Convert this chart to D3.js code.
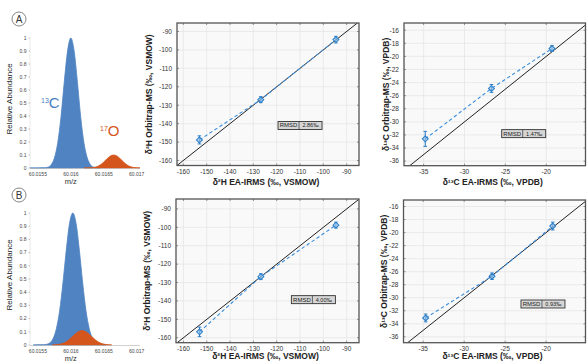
<!DOCTYPE html>
<html>
<head>
<meta charset="utf-8">
<script src="https://cdn.jsdelivr.net/npm/d3@7"></script>
<style>
  body { margin: 0; background: #fff; }
  svg { display: block; font-family: "Liberation Sans", Arial, sans-serif; }
</style>
</head>
<body>
<svg id="fig" width="587" height="362"></svg>
<script>
// ---- Mass spectra: sampled peak profiles (m/z, relative abundance) ----
const blueMzA = [60.01538, 60.0155, 60.0156, 60.01565, 60.0157, 60.01575, 60.0158, 60.01585, 60.0159, 60.01595, 60.016,
                 60.01605, 60.0161, 60.01615, 60.0162, 60.01625, 60.0163, 60.01635, 60.0164, 60.01645];
const blueAbA = [0, 0, 0.001, 0.006, 0.024, 0.076, 0.19, 0.39, 0.66, 0.90, 1.0,
                 0.90, 0.66, 0.39, 0.19, 0.076, 0.024, 0.006, 0.001, 0];
const orangeMzA = [60.0162, 60.01625, 60.0163, 60.01635, 60.0164, 60.01645, 60.0165, 60.01655, 60.0166, 60.01665,
                   60.0167, 60.01675, 60.0168, 60.01685, 60.0169, 60.01695, 60.017, 60.01705];
const orangeAbA = [0, 0.0004, 0.0014, 0.0044, 0.0114, 0.025, 0.046, 0.071, 0.092, 0.1,
                   0.092, 0.071, 0.046, 0.025, 0.0114, 0.0044, 0.0014, 0];
const blueMzB = [60.01543, 60.01558, 60.01563, 60.01568, 60.01573, 60.01578, 60.01583, 60.01588, 60.01593, 60.01598, 60.01603,
                 60.01608, 60.01613, 60.01618, 60.01623, 60.01628, 60.01633, 60.01638, 60.01643, 60.01648, 60.01653];
const blueAbB = [0, 0.001, 0.005, 0.016, 0.048, 0.123, 0.26, 0.47, 0.715, 0.92, 1.0,
                 0.92, 0.715, 0.47, 0.26, 0.123, 0.048, 0.016, 0.005, 0.001, 0];
const orangeMzB = [60.01572, 60.01577, 60.01582, 60.01587, 60.01592, 60.01597, 60.01602, 60.01607, 60.01612, 60.01617,
                   60.01622, 60.01627, 60.01632, 60.01637, 60.01642, 60.01647, 60.01652, 60.01657, 60.01662];
const orangeAbB = [0, 0.0019, 0.0048, 0.011, 0.022, 0.040, 0.062, 0.085, 0.103, 0.11,
                   0.103, 0.085, 0.062, 0.040, 0.022, 0.011, 0.0048, 0.0019, 0];
const mzTicks = [60.0155, 60.016, 60.0165, 60.017];
const mzTickLabels = ["60.0155", "60.016", "60.0165", "60.017"];
const abundTicks = [0, 0.1, 0.2, 0.3, 0.4, 0.5, 0.6, 0.7, 0.8, 0.9, 1];
const abundTickLabels = ["0", "0.1", "0.2", "0.3", "0.4", "0.5", "0.6", "0.7", "0.8", "0.9", "1"];

// ---- Orbitrap-MS vs EA-IRMS comparisons ----
const hXA = [-153.1, -126.8, -94.6];
const hYA = [-148.8, -127.0, -94.4];
const hErrA = [2.2, 1.6, 1.8];
const cXA = [-34.8, -26.7, -19.3];
const cYA = [-32.6, -24.9, -18.8];
const cErrA = [1.15, 0.6, 0.45];
const hXB = [-153.1, -126.8, -94.6];
const hYB = [-156.8, -126.8, -98.8];
const hErrB = [2.6, 1.6, 1.6];
const cXB = [-34.7, -26.6, -19.2];
const cYB = [-33.1, -26.7, -19.0];
const cErrB = [0.6, 0.5, 0.6];
const hTicks = [-160, -150, -140, -130, -120, -110, -100, -90];
const cXTicks = [-35, -30, -25, -20];
const cYTicks = [-36, -34, -32, -30, -28, -26, -24, -22, -20, -18, -16];
const rmsdLabels = ["2.86‰", "1.47‰", "4.00‰", "0.93‰"];

const BLUE_FILL = "#4f83c2";
const ORANGE = "#d4561c";
const MARK = "#2f80c8";

const svg = d3.select("#fig");

// ---------- spectrum panel ----------
function drawSpectrum(cfg) {
  const g = svg.append("g");
  const x = d3.scaleLinear().domain([60.01538, 60.01705]).range([30, 140]);
  const y = d3.scaleLinear().domain([0, 1]).range([cfg.bottom, cfg.top]);

  cfg.series.forEach(s => {
    const pts = s.mz.map((m, i) => [m, s.ab[i]]);
    const area = d3.area().x(d => x(d[0])).y0(y(0)).y1(d => y(d[1])).curve(d3.curveMonotoneX);
    g.append("path").attr("d", area(pts))
      .attr("fill", s.color).attr("stroke", s.color).attr("stroke-width", 0.8);
  });

  // axes
  g.append("line").attr("x1", 30).attr("x2", 140).attr("y1", cfg.bottom + 0.5).attr("y2", cfg.bottom + 0.5)
    .attr("stroke", "#b0b0b0").attr("stroke-width", 0.6);
  g.append("line").attr("x1", 30).attr("x2", 30).attr("y1", cfg.top).attr("y2", cfg.bottom)
    .attr("stroke", "#d0d0d0").attr("stroke-width", 0.5);
  abundTicks.forEach((t, i) => {
    g.append("line").attr("x1", 28.5).attr("x2", 30).attr("y1", y(t)).attr("y2", y(t))
      .attr("stroke", "#888").attr("stroke-width", 0.5);
    g.append("text").attr("x", 26.5).attr("y", y(t) + 1.8).attr("text-anchor", "end")
      .attr("font-size", 5).attr("fill", "#444").text(abundTickLabels[i]);
  });
  mzTicks.forEach((t, i) => {
    g.append("text").attr("x", x(t)).attr("y", cfg.bottom + 7.5).attr("text-anchor", "middle")
      .attr("font-size", 5).attr("fill", "#444").text(mzTickLabels[i]);
  });
  g.append("text").attr("x", x(60.016)).attr("y", cfg.bottom + 15.5).attr("text-anchor", "middle")
    .attr("font-size", 7.5).attr("fill", "#333").text("m/z");
  g.append("text").attr("transform", `translate(12,${(cfg.top + cfg.bottom) / 2 - 4}) rotate(-90)`)
    .attr("text-anchor", "middle").attr("font-size", 8).attr("fill", "#222").text("Relative Abundance");

  // panel letter
  g.append("circle").attr("cx", 19).attr("cy", cfg.letterY).attr("r", 7)
    .attr("fill", "#fff").attr("stroke", "#777").attr("stroke-width", 0.9);
  g.append("text").attr("x", 19).attr("y", cfg.letterY + 3.6).attr("text-anchor", "middle")
    .attr("font-size", 10).attr("fill", "#333").text(cfg.letter);

  (cfg.isoLabels || []).forEach(l => {
    const t = g.append("text").attr("x", l.x).attr("y", l.y).attr("fill", l.color);
    t.append("tspan").attr("font-size", 7).attr("dy", -5).text(l.sup);
    t.append("tspan").attr("font-size", 15).attr("dy", 5).text(l.el);
  });
}

drawSpectrum({
  top: 38, bottom: 168, letter: "A", letterY: 19,
  series: [{ mz: blueMzA, ab: blueAbA, color: BLUE_FILL }, { mz: orangeMzA, ab: orangeAbA, color: ORANGE }],
  isoLabels: [{ x: 41, y: 108, sup: "13", el: "C", color: "#4a7fc1" },
              { x: 100, y: 136, sup: "17", el: "O", color: ORANGE }]
});
drawSpectrum({
  top: 213, bottom: 345, letter: "B", letterY: 195,
  series: [{ mz: blueMzB, ab: blueAbB, color: BLUE_FILL }, { mz: orangeMzB, ab: orangeAbB, color: ORANGE }]
});

// ---------- comparison scatter panel ----------
let clipId = 0;
function drawScatter(cfg) {
  const g = svg.append("g");
  const x = d3.scaleLinear().domain(cfg.xDom).range([cfg.left, cfg.right]);
  const y = d3.scaleLinear().domain(cfg.yDom).range([cfg.bottom, cfg.top]);
  const w = cfg.right - cfg.left, h = cfg.bottom - cfg.top;
  const id = "clip" + (clipId++);
  g.append("clipPath").attr("id", id).append("rect")
    .attr("x", cfg.left).attr("y", cfg.top).attr("width", w).attr("height", h);

  g.append("rect").attr("x", cfg.left).attr("y", cfg.top).attr("width", w).attr("height", h).attr("fill", "#f9f9f9");

  // grid
  cfg.xTicks.forEach(t => g.append("line").attr("x1", x(t)).attr("x2", x(t)).attr("y1", cfg.top).attr("y2", cfg.bottom)
    .attr("stroke", "#e4e4e4").attr("stroke-width", 0.7));
  cfg.yTicks.forEach(t => g.append("line").attr("y1", y(t)).attr("y2", y(t)).attr("x1", cfg.left).attr("x2", cfg.right)
    .attr("stroke", "#e4e4e4").attr("stroke-width", 0.7));

  const plot = g.append("g").attr("clip-path", `url(#${id})`);
  // 1:1 line
  const lo = Math.min(cfg.xDom[0], cfg.yDom[0]) - 5, hi = Math.max(cfg.xDom[1], cfg.yDom[1]) + 5;
  plot.append("line").attr("x1", x(lo)).attr("y1", y(lo)).attr("x2", x(hi)).attr("y2", y(hi))
    .attr("stroke", "#222").attr("stroke-width", 1);

  const pts = cfg.xs.map((v, i) => ({ x: v, y: cfg.ys[i], e: cfg.errs[i] }));
  plot.append("path").attr("d", d3.line().x(d => x(d.x)).y(d => y(d.y))(pts))
    .attr("fill", "none").attr("stroke", "#3a8ede").attr("stroke-width", 1.1).attr("stroke-dasharray", "3.5,2.5");

  pts.forEach(p => {
    const px = x(p.x), y1 = y(p.y + p.e), y2 = y(p.y - p.e);
    plot.append("line").attr("x1", px).attr("x2", px).attr("y1", y1).attr("y2", y2)
      .attr("stroke", MARK).attr("stroke-width", 1.1);
    [y1, y2].forEach(yy => plot.append("line").attr("x1", px - 1.8).attr("x2", px + 1.8).attr("y1", yy).attr("y2", yy)
      .attr("stroke", MARK).attr("stroke-width", 1));
    plot.append("path").attr("d", d3.symbol(d3.symbolDiamond2, 22)())
      .attr("transform", `translate(${px},${y(p.y)})`)
      .attr("fill", "#9cc6ee").attr("fill-opacity", 0.6).attr("stroke", MARK).attr("stroke-width", 1.1);
  });

  // inner tick marks on all sides
  cfg.xTicks.forEach(t => {
    g.append("line").attr("x1", x(t)).attr("x2", x(t)).attr("y1", cfg.bottom).attr("y2", cfg.bottom - 2).attr("stroke", "#555").attr("stroke-width", 0.6);
    g.append("line").attr("x1", x(t)).attr("x2", x(t)).attr("y1", cfg.top).attr("y2", cfg.top + 2).attr("stroke", "#555").attr("stroke-width", 0.6);
    g.append("text").attr("x", x(t)).attr("y", cfg.bottom + 8).attr("text-anchor", "middle")
      .attr("font-size", 6.5).attr("fill", "#333").text(String(t));
  });
  cfg.yTicks.forEach(t => {
    g.append("line").attr("y1", y(t)).attr("y2", y(t)).attr("x1", cfg.left).attr("x2", cfg.left + 2).attr("stroke", "#555").attr("stroke-width", 0.6);
    g.append("line").attr("y1", y(t)).attr("y2", y(t)).attr("x1", cfg.right).attr("x2", cfg.right - 2).attr("stroke", "#555").attr("stroke-width", 0.6);
    g.append("text").attr("x", cfg.left - 5).attr("y", y(t) + 2.3).attr("text-anchor", "end")
      .attr("font-size", 6.5).attr("fill", "#333").text(String(t));
  });

  g.append("rect").attr("x", cfg.left).attr("y", cfg.top).attr("width", w).attr("height", h)
    .attr("fill", "none").attr("stroke", "#555").attr("stroke-width", 1.3);

  // titles
  g.append("text").attr("x", (cfg.left + cfg.right) / 2 - 2).attr("y", cfg.bottom + cfg.xTitleDy).attr("text-anchor", "middle")
    .attr("font-size", 8.5).attr("font-weight", "bold").attr("fill", "#222").text(cfg.xTitle);
  g.append("text").attr("transform", `translate(${cfg.left + cfg.yTitleDx},${(cfg.top + cfg.bottom) / 2}) rotate(-90)`)
    .attr("text-anchor", "middle").attr("font-size", 8.5).attr("font-weight", "bold").attr("fill", "#222").text(cfg.yTitle);

  // RMSD annotation
  const bx = x(cfg.rmsdAt[0]), by = y(cfg.rmsdAt[1]);
  const box = g.append("g").attr("transform", `translate(${bx},${by - 4})`);
  box.append("rect").attr("width", 44).attr("height", 8).attr("fill", "#d6d6d6").attr("stroke", "#333").attr("stroke-width", 0.9);
  box.append("line").attr("x1", 21).attr("x2", 21).attr("y1", 0).attr("y2", 8).attr("stroke", "#333").attr("stroke-width", 0.7);
  box.append("text").attr("x", 10.5).attr("y", 6).attr("text-anchor", "middle").attr("font-size", 6).attr("fill", "#222").text("RMSD");
  box.append("text").attr("x", 32.5).attr("y", 6).attr("text-anchor", "middle").attr("font-size", 5.5).attr("fill", "#222").text(cfg.rmsd);
}

drawScatter({
  left: 177, right: 359, top: 23, bottom: 165.5, xDom: [-162.7, -84.7], yDom: [-162.7, -85.4],
  xTicks: hTicks, yTicks: hTicks, xs: hXA, ys: hYA, errs: hErrA,
  xTitle: "δ²H EA-IRMS (‰, VSMOW)", yTitle: "δ²H Orbitrap-MS (‰, VSMOW)", yTitleDx: -25, xTitleDy: 19,
  rmsd: rmsdLabels[0], rmsdAt: [-119.4, -141.0]
});
drawScatter({
  left: 404, right: 585.5, top: 23, bottom: 165.7, xDom: [-37.4, -15.2], yDom: [-36.7, -14.9],
  xTicks: cXTicks, yTicks: cYTicks, xs: cXA, ys: cYA, errs: cErrA,
  xTitle: "δ¹³C EA-IRMS (‰, VPDB)", yTitle: "δ¹³C Orbitrap-MS (‰, VPDB)", yTitleDx: -15, xTitleDy: 19,
  rmsd: rmsdLabels[1], rmsdAt: [-25.45, -31.8]
});
drawScatter({
  left: 176, right: 359, top: 199, bottom: 342.7, xDom: [-163.2, -84.7], yDom: [-162.7, -84.6],
  xTicks: hTicks, yTicks: hTicks, xs: hXB, ys: hYB, errs: hErrB,
  xTitle: "δ²H EA-IRMS (‰, VSMOW)", yTitle: "δ²H Orbitrap-MS (‰, VSMOW)", yTitleDx: -26, xTitleDy: 16.3,
  rmsd: rmsdLabels[2], rmsdAt: [-113.7, -139.3]
});
drawScatter({
  left: 403.5, right: 585.5, top: 200, bottom: 342.7, xDom: [-37.4, -15.2], yDom: [-36.9, -15.0],
  xTicks: cXTicks, yTicks: cYTicks, xs: cXB, ys: cYB, errs: cErrB,
  xTitle: "δ¹³C EA-IRMS (‰, VPDB)", yTitle: "δ¹³C Orbitrap-MS (‰, VPDB)", yTitleDx: -17, xTitleDy: 16.3,
  rmsd: rmsdLabels[3], rmsdAt: [-23.07, -30.96]
});
</script>
</body>
</html>
